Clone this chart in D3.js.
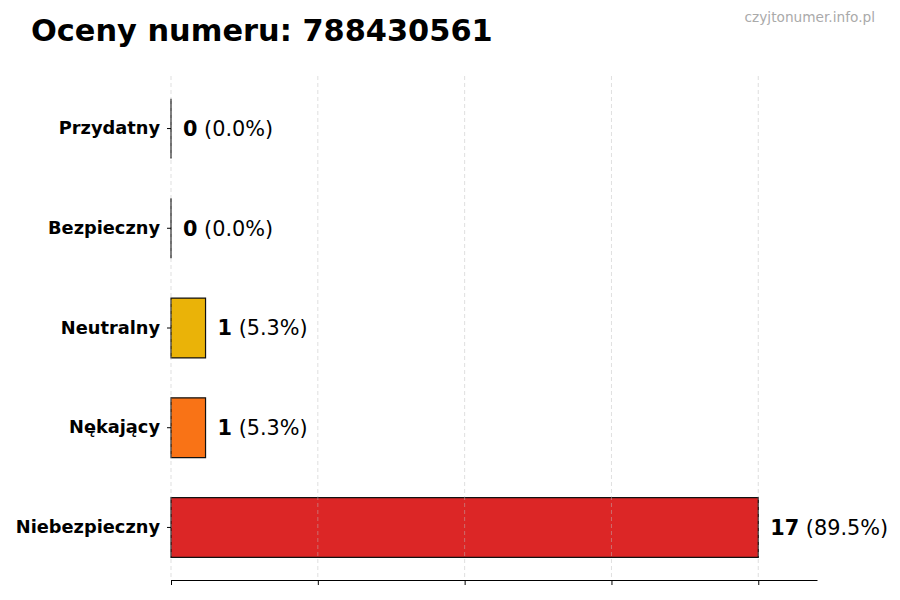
<!DOCTYPE html>
<html>
<head>
<meta charset="utf-8">
<script src="https://cdn.jsdelivr.net/npm/d3@7"></script>
<style>
  body { margin: 0; background: #fff; }
  svg, svg text { font-family: "DejaVu Sans", sans-serif; }
</style>
</head>
<body>
<div id="chart"></div>
<script>
const categories = ["Przydatny", "Bezpieczny", "Neutralny", "Nękający", "Niebezpieczny"];
const counts = [0, 0, 1, 1, 17];
const percents = ["0.0%", "0.0%", "5.3%", "5.3%", "89.5%"];
const colors = ["#22c55e", "#3b82f6", "#eab308", "#f97316", "#dc2626"];
const xTicks = [0, 4.25, 8.5, 12.75, 17];

const W = 900, H = 600;
const margin = { top: 76, right: 83, bottom: 20, left: 171 };
const width = W - margin.left - margin.right;
const height = H - margin.top - margin.bottom;

const svg = d3.select("#chart")
    .append("svg")
    .attr("width", W)
    .attr("height", H);

svg.append("text")
    .attr("x", 31)
    .attr("y", 41)
    .style("font-size", "30.4px")
    .style("font-weight", "bold")
    .text("Oceny numeru: 788430561");

svg.append("text")
    .attr("x", 875)
    .attr("y", 22)
    .attr("text-anchor", "end")
    .style("font-size", "13.7px")
    .style("fill", "#aaa")
    .text("czyjtonumer.info.pl");

const g = svg.append("g")
    .attr("transform", `translate(${margin.left},${margin.top})`);

const x = d3.scaleLinear()
    .domain([0, d3.max(counts) * 1.1])
    .range([0, width]);

const y = d3.scaleBand()
    .domain(categories)
    .range([0, height])
    .paddingInner(0.4)
    .paddingOuter(0.227);

// bars as paths so zero-width bars still show their edge
g.selectAll(".bar")
    .data(categories)
    .enter()
    .append("path")
    .attr("class", "bar")
    .attr("d", (d, i) => {
        const w = x(counts[i]) - x(0);
        return `M${x(0)},${y(d)}h${w}v${y.bandwidth()}h${-w}Z`;
    })
    .attr("fill", (d, i) => colors[i])
    .attr("stroke", "#111")
    .attr("stroke-width", 1.2);

// grid on top, faint
g.selectAll(".grid")
    .data(xTicks)
    .enter()
    .append("line")
    .attr("x1", d => x(d))
    .attr("x2", d => x(d))
    .attr("y1", 0)
    .attr("y2", height)
    .attr("stroke", "#bbb")
    .attr("stroke-opacity", 0.6)
    .attr("stroke-dasharray", "4,3")
    .attr("stroke-width", 0.8);

// x axis
const xAxis = g.append("g")
    .attr("transform", `translate(0,${height})`)
    .call(d3.axisBottom(x).tickValues(xTicks).tickFormat("").tickSize(5).tickSizeOuter(0));
xAxis.select(".domain").attr("stroke", "#000").attr("stroke-width", 1.2);
xAxis.selectAll(".tick line").attr("stroke", "#000").attr("stroke-width", 1);

// y axis
const yAxis = g.append("g")
    .call(d3.axisLeft(y).tickSize(4).tickPadding(7));
yAxis.attr("font-family", null);
yAxis.select(".domain").remove();
yAxis.selectAll(".tick line").attr("stroke", "#000");
yAxis.selectAll(".tick text")
    .style("font-family", "'DejaVu Sans', sans-serif")
    .style("font-size", "17.8px")
    .style("font-weight", "bold")
    .style("fill", "#000");

// value labels
const labels = g.selectAll(".val")
    .data(categories)
    .enter()
    .append("text")
    .attr("class", "val")
    .attr("x", (d, i) => x(counts[i]) + 12)
    .attr("y", d => y(d) + y.bandwidth() / 2)
    .attr("dy", "0.35em")
    .style("font-size", "20.8px")
    .style("fill", "#000");

labels.append("tspan")
    .style("font-weight", "bold")
    .text((d, i) => counts[i]);
labels.append("tspan")
    .text((d, i) => ` (${percents[i]})`);
</script>
</body>
</html>
